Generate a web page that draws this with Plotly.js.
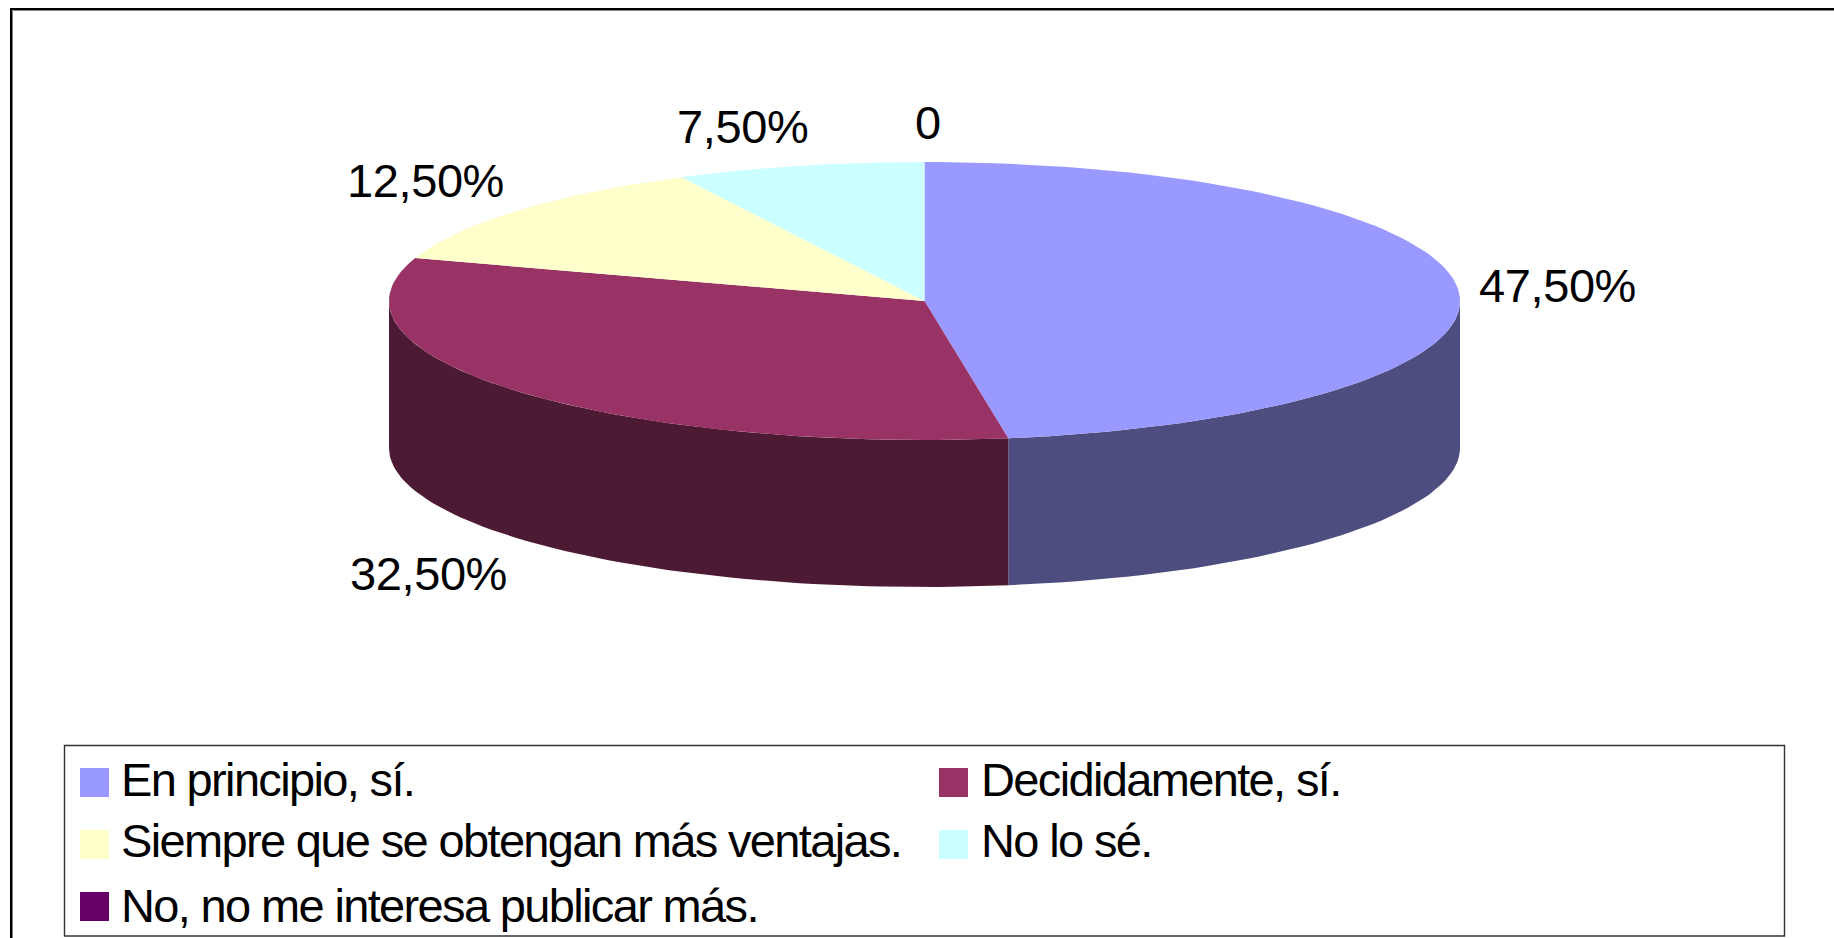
<!DOCTYPE html>
<html>
<head>
<meta charset="utf-8">
<script src="https://cdn.plot.ly/plotly-3.0.1.min.js"></script>
<style>
html,body{margin:0;padding:0;background:#fff;overflow:hidden}
#chart{width:1834px;height:938px}
</style>
</head>
<body>
<div id="chart"></div>
<script>
const categories = ["En principio, sí.", "Decididamente, sí.", "Siempre que se obtengan más ventajas.", "No lo sé.", "No, no me interesa publicar más."];
const values = [47.5, 32.5, 12.5, 7.5, 0];
const topColors = ["#9999FF", "#993366", "#FFFFCC", "#CCFFFF", "#660066"];
const sideColors = ["#4D4D80", "#4D1A33", "#80806A", "#6A8080", "#330033"];

const W = 1834, H = 938;
const pie = {cx: 924.5, cy: 301, rx: 535.5, ry: 139, depth: 147};
const labelOffsets = [[99, -5], [-89, 182], [-92, -30], [-57, -39], [3, -40]];
const legendCols = [[80, 118.5], [939, 978.5]];
const legendRows = [782.5, 844.5, 906.5];
const legendTextShift = [-3, -4, -1];
const SWATCH = 29;
const FONT = "Liberation Sans, Arial, sans-serif";
const FONT_SIZE = 47;

const total = values.reduce((a, b) => a + b, 0);
const pt = (deg, dy) => {
  const r = deg * Math.PI / 180;
  return [pie.cx + pie.rx * Math.sin(r), pie.cy - pie.ry * Math.cos(r) + (dy || 0)];
};
const arc = (a, b, dy) => {
  const n = Math.max(2, Math.ceil(Math.abs(b - a) / 1.5));
  const out = [];
  for (let i = 0; i <= n; i++) out.push(pt(a + (b - a) * i / n, dy));
  return out;
};
const polyTrace = (points, color, name) => ({
  type: "scatter", mode: "lines", fill: "toself", fillcolor: color,
  x: points.map(p => p[0]), y: points.map(p => p[1]),
  line: {width: 0, color: color}, name: name, showlegend: false, hoverinfo: "skip"
});

const traces = [], annotations = [], shapes = [];
let acc = 0;
const spans = values.map(v => { const s = acc; acc += v; return [s / total * 360, acc / total * 360]; });

// side walls (only the front half of the rim is visible)
values.forEach((v, i) => {
  const a = Math.max(spans[i][0], 90), b = Math.min(spans[i][1], 270);
  if (v > 0 && b > a) {
    traces.push(polyTrace(arc(a, b, 0).concat(arc(b, a, pie.depth)), sideColors[i], categories[i] + " (lado)"));
  }
});
// top faces
values.forEach((v, i) => {
  if (v > 0) {
    traces.push(polyTrace([[pie.cx, pie.cy]].concat(arc(spans[i][0], spans[i][1], 0)).concat([[pie.cx, pie.cy]]), topColors[i], categories[i]));
  }
});

const fmt = v => v === 0 ? "0" : v.toFixed(2).replace(".", ",") + "%";
values.forEach((v, i) => {
  const p = pt((spans[i][0] + spans[i][1]) / 2);
  annotations.push({
    x: p[0] + labelOffsets[i][0], y: p[1] + labelOffsets[i][1], xref: "x", yref: "y",
    text: '<span style="letter-spacing:-0.4px">' + fmt(v) + '</span>', showarrow: false, xanchor: "center", yanchor: "middle",
    font: {family: FONT, size: FONT_SIZE, color: "#000"}
  });
});

// frame
const rect = (x0, y0, x1, y1, color, width, fill) => ({
  type: "rect", xref: "x", yref: "y", x0, y0, x1, y1,
  line: {color, width}, fillcolor: fill || "rgba(0,0,0,0)", layer: "below"
});
shapes.push(rect(11, 9, W + 20, H + 20, "#000", 2));
shapes.push(rect(12.5, 10.5, W + 20, H + 20, "#808080", 1));
shapes.push(rect(64.5, 745.5, 1784.5, 936, "#333333", 1.4));

// legend: two columns, filled row by row
categories.forEach((c, i) => {
  const col = legendCols[i % 2], row = Math.floor(i / 2), yc = legendRows[row];
  shapes.push(rect(col[0], yc - SWATCH / 2, col[0] + SWATCH, yc + SWATCH / 2, topColors[i], 0, topColors[i]));
  annotations.push({
    x: col[1], y: yc + legendTextShift[row], xref: "x", yref: "y", text: '<span style="letter-spacing:-1.65px">' + c + '</span>', showarrow: false,
    xanchor: "left", yanchor: "middle",
    font: {family: FONT, size: FONT_SIZE, color: "#000"}
  });
});

Plotly.newPlot("chart", traces, {
  width: W, height: H, margin: {l: 0, r: 0, t: 0, b: 0},
  paper_bgcolor: "#fff", plot_bgcolor: "#fff", showlegend: false, hovermode: false,
  xaxis: {range: [0, W], visible: false, fixedrange: true},
  yaxis: {range: [H, 0], visible: false, fixedrange: true},
  shapes, annotations
}, {displayModeBar: false, staticPlot: true});
</script>
</body>
</html>
